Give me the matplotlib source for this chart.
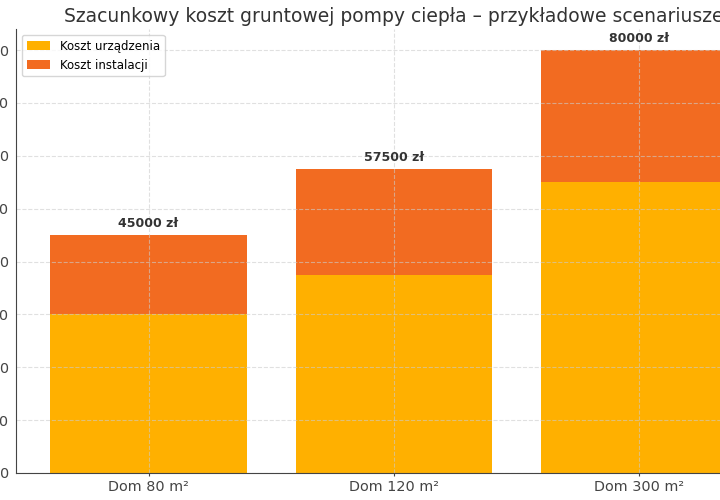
import matplotlib.pyplot as plt

# Data
houses = ['Dom 80 m²', 'Dom 120 m²', 'Dom 300 m²']
device_cost = [30000, 37500, 55000]
install_cost = [15000, 20000, 25000]
totals = [d + i for d, i in zip(device_cost, install_cost)]

fig = plt.figure(figsize=(7.2, 5), dpi=100)
# axes runs past the right edge (reference is a crop of a wider chart)
ax = fig.add_axes([16 / 720, 27 / 500, 756 / 720, 444 / 500])

ax.bar(houses, device_cost, color='#FFB000', label='Koszt urządzenia')
ax.bar(houses, install_cost, bottom=device_cost, color='#F26B21', label='Koszt instalacji')

for x, t in enumerate(totals):
    ax.text(x, t + 1000, f'{t} zł', ha='center', va='bottom',
            fontsize=9, fontweight='bold', color='#333333')

ax.set_title('Szacunkowy koszt gruntowej pompy ciepła – przykładowe scenariusze',
             fontsize=13.5, color='#333333', pad=5)
ax.grid(True, linestyle='--', color='#cccccc', alpha=0.6)
ax.tick_params(colors='#444444', labelsize=10.4)
ax.tick_params(axis='y', length=0, pad=5)
ax.tick_params(axis='x', length=2, pad=3)
for side in ['top', 'right']:
    ax.spines[side].set_visible(False)
ax.spines['left'].set_color('#444444')
ax.spines['bottom'].set_color('#444444')
ax.legend(loc='upper left', fontsize=8.5)

fig.savefig('out.png', dpi=100)
